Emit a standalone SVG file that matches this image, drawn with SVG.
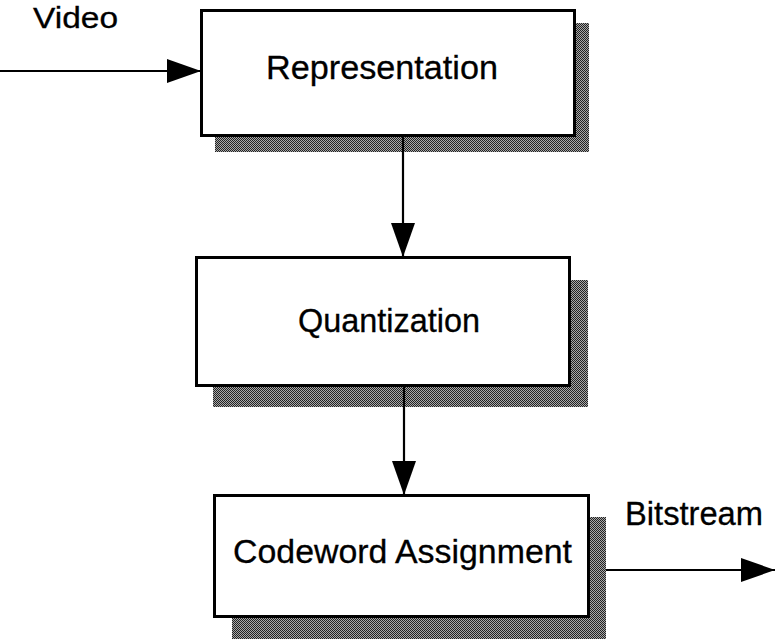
<svg xmlns="http://www.w3.org/2000/svg" width="775" height="639" viewBox="0 0 775 639">
  <defs>
    <!-- halftone drop shadow -->
    <pattern id="dither" width="2" height="2" patternUnits="userSpaceOnUse">
      <rect width="2" height="2" fill="#a8a8a8"/>
      <rect width="1" height="1" fill="#222"/>
      <rect x="1" y="1" width="1" height="1" fill="#222"/>
    </pattern>
    <marker id="head" markerUnits="userSpaceOnUse" markerWidth="36" markerHeight="26" refX="34" refY="12" orient="auto">
      <path d="M0,0 L34,12 L0,24 z" fill="#000"/>
    </marker>
    <style>
      .shadow { fill: url(#dither); }
      .box { fill: #fff; stroke: #000; stroke-width: 3; }
      .label { font-family: "Liberation Sans", Arial, Helvetica, sans-serif; fill: #000; stroke: #000; stroke-width: 0.3; }
      .wire { stroke: #000; stroke-width: 2.2; fill: none; }
    </style>
  </defs>

  <rect width="775" height="639" fill="#fff"/>

  <g id="representation">
    <rect class="shadow" x="215" y="23" width="374" height="129"/>
    <rect class="box" x="201.5" y="10.5" width="373" height="125"/>
    <text class="label" x="266" y="79" font-size="34" textLength="232" lengthAdjust="spacingAndGlyphs">Representation</text>
  </g>

  <g id="quantization">
    <rect class="shadow" x="213" y="280" width="375" height="127"/>
    <rect class="box" x="196.5" y="257.5" width="373" height="128"/>
    <text class="label" x="298" y="332" font-size="33" textLength="182" lengthAdjust="spacingAndGlyphs">Quantization</text>
  </g>

  <g id="codeword-assignment">
    <rect class="shadow" x="232" y="517" width="374" height="122"/>
    <rect class="box" x="214.5" y="495.5" width="374" height="121"/>
    <text class="label" x="233" y="563" font-size="33" textLength="339" lengthAdjust="spacingAndGlyphs">Codeword Assignment</text>
  </g>

  <g id="labels">
    <text class="label" x="33" y="28" font-size="29" textLength="85" lengthAdjust="spacingAndGlyphs">Video</text>
    <text class="label" x="625" y="525" font-size="33" textLength="138" lengthAdjust="spacingAndGlyphs">Bitstream</text>
  </g>

  <g id="connectors">
    <line class="wire" x1="0" y1="71" x2="201" y2="71" marker-end="url(#head)"/>
    <line class="wire" x1="403" y1="137" x2="403" y2="257" marker-end="url(#head)"/>
    <line class="wire" x1="404" y1="387" x2="404" y2="495" marker-end="url(#head)"/>
    <line class="wire" x1="606" y1="570" x2="775" y2="570" marker-end="url(#head)"/>
  </g>
</svg>
